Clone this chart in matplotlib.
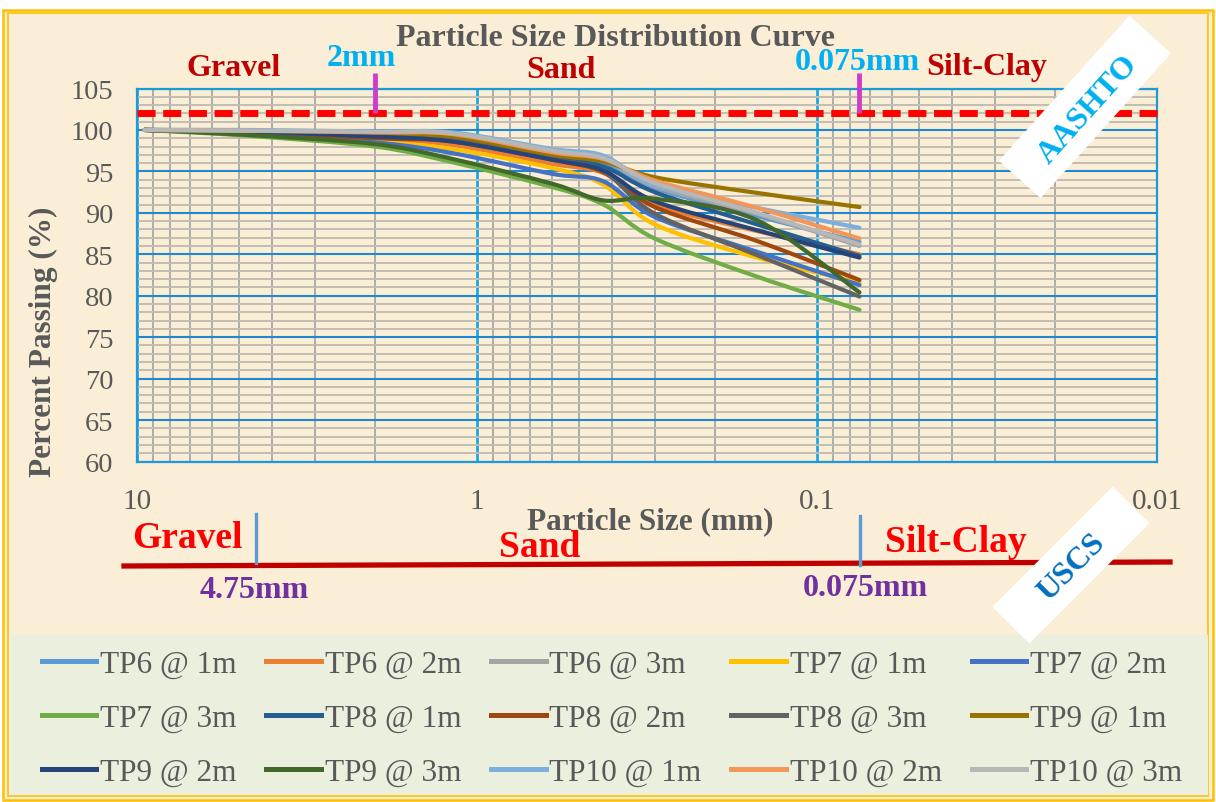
import matplotlib
matplotlib.use("Agg")
import matplotlib.pyplot as plt
import numpy as np
from matplotlib.path import Path
from matplotlib.patches import PathPatch, Rectangle
from matplotlib.lines import Line2D
from matplotlib.ticker import LogLocator, MultipleLocator, FixedLocator, FixedFormatter, NullFormatter
from matplotlib import transforms

plt.rcParams['font.family'] = ['Liberation Serif', 'DejaVu Serif']

# sieve sizes (mm) and percent passing for each test pit sample
sieve = [9.5, 4.75, 2.0, 1.18, 0.6, 0.425, 0.3, 0.15, 0.075]

tp6_1 = [100, 99.9, 99.6, 99.3, 97.3, 96.1, 93.0, 89.6, 86.5]
tp6_2 = [100, 99.7, 98.9, 98.2, 95.9, 94.8, 91.0, 87.8, 85.0]
tp6_3 = [100, 99.9, 99.7, 99.4, 97.4, 96.4, 93.2, 89.9, 86.0]
tp7_1 = [100, 99.6, 98.6, 97.7, 95.4, 93.4, 88.6, 84.6, 81.6]
tp7_2 = [100, 99.5, 98.5, 97.2, 94.7, 93.8, 89.5, 85.3, 81.3]
tp7_3 = [100, 99.3, 98.0, 96.1, 93.1, 91.0, 86.9, 82.3, 78.3]
tp8_1 = [100, 99.8, 99.3, 98.9, 96.7, 95.6, 92.5, 88.6, 84.8]
tp8_2 = [100, 99.7, 99.0, 98.6, 96.4, 94.9, 90.7, 86.6, 81.9]
tp8_3 = [100, 99.8, 99.2, 98.8, 96.5, 95.0, 89.9, 84.9, 79.9]
tp9_1 = [100, 99.9, 99.5, 99.2, 97.0, 96.2, 94.3, 92.4, 90.7]
tp9_2 = [100, 99.8, 99.2, 98.6, 96.4, 95.1, 91.4, 87.9, 84.6]
tp9_3 = [100, 99.4, 98.3, 96.5, 93.5, 91.5, 91.7, 89.1, 80.4]
tp10_1 = [100, 100, 99.8, 99.7, 97.7, 96.9, 93.4, 90.6, 88.2]
tp10_2 = [100, 99.9, 99.7, 99.5, 97.3, 96.5, 93.9, 90.6, 86.9]
tp10_3 = [100, 99.9, 99.8, 99.6, 97.5, 96.6, 93.6, 90.0, 86.2]

names = ['TP6 @ 1m', 'TP6 @ 2m', 'TP6 @ 3m', 'TP7 @ 1m', 'TP7 @ 2m',
         'TP7 @ 3m', 'TP8 @ 1m', 'TP8 @ 2m', 'TP8 @ 3m', 'TP9 @ 1m',
         'TP9 @ 2m', 'TP9 @ 3m', 'TP10 @ 1m', 'TP10 @ 2m', 'TP10 @ 3m']
series = [tp6_1, tp6_2, tp6_3, tp7_1, tp7_2, tp7_3, tp8_1, tp8_2, tp8_3,
          tp9_1, tp9_2, tp9_3, tp10_1, tp10_2, tp10_3]
colors = ['#5B9BD5', '#ED7D31', '#A5A5A5', '#FFC000', '#4472C4', '#70AD47',
          '#255E91', '#9E480E', '#636363', '#997300', '#264478', '#43682B',
          '#7CAFDD', '#F1975A', '#B7B7B7']

yticks = [60, 65, 70, 75, 80, 85, 90, 95, 100, 105]
xticks = [10, 1, 0.1, 0.01]
xticklabels = ['10', '1', '0.1', '0.01']

W, H = 1216, 803
GRAY = '#595959'


def fx(x):
    return x / W


def fy(y):
    return 1 - y / H


def smooth_path(xs, ys):
    # bezier smoothing done in log-x space so it looks right on the log axis
    pts = np.column_stack([np.log10(xs), ys])
    n = len(pts)
    verts = [pts[0]]
    codes = [Path.MOVETO]
    for i in range(n - 1):
        p0 = pts[max(i - 1, 0)]
        p1 = pts[i]
        p2 = pts[i + 1]
        p3 = pts[min(i + 2, n - 1)]
        verts += [p1 + (p2 - p0) / 6, p2 - (p3 - p1) / 6, p2]
        codes += [Path.CURVE4] * 3
    verts = np.array(verts)
    verts[:, 0] = 10 ** verts[:, 0]
    return Path(verts, codes)


def rot_box(cx, cy, length, width, angle):
    cy = H - cy
    tr = transforms.Affine2D().rotate_deg_around(cx, cy, angle).scale(1 / W, 1 / H) + fig.transFigure
    box = Rectangle((cx - length / 2, cy - width / 2), length, width,
                    facecolor='white', edgecolor='none', transform=tr, zorder=5)
    fig.add_artist(box)


fig = plt.figure(figsize=(W / 100, H / 100), dpi=100, facecolor='white')

# parchment background with gold double border
fig.add_artist(Rectangle((fx(3), fy(801)), fx(1210), 790 / H, transform=fig.transFigure,
                         facecolor='#FAEED6', edgecolor='#FFC000', lw=1.8, zorder=0))
fig.add_artist(Rectangle((fx(8), fy(797)), fx(1200), 783 / H, transform=fig.transFigure,
                         facecolor='none', edgecolor='#FFC000', lw=1.2, zorder=0))
# legend panel
fig.add_artist(Rectangle((fx(10), fy(796)), fx(1198), 160 / H, transform=fig.transFigure,
                         facecolor='#EBF0DE', edgecolor='none', zorder=1))

ax = fig.add_axes([fx(137), fy(462.5), fx(1157 - 137), (462.5 - 89.5) / H])
ax.set_facecolor('none')
ax.set_xscale('log')
ax.set_xlim(10, 0.01)
ax.set_ylim(60, 105)

ax.xaxis.set_major_locator(FixedLocator(xticks))
ax.xaxis.set_major_formatter(FixedFormatter(xticklabels))
ax.xaxis.set_minor_locator(LogLocator(base=10, subs=np.arange(2, 10)))
ax.xaxis.set_minor_formatter(NullFormatter())
ax.set_yticks(yticks)
ax.yaxis.set_minor_locator(MultipleLocator(1))

ax.grid(True, which='minor', axis='y', color='#C2BDB4', lw=1.4)
ax.grid(True, which='minor', axis='x', color='#A6A6A6', lw=1.3)
ax.grid(True, which='major', axis='y', color='#1E88D0', lw=1.5)
ax.grid(True, which='major', axis='x', color='#12A5E6', lw=1.9)
ax.set_axisbelow(True)
for s in ax.spines.values():
    s.set_color('#1E9AD8')
    s.set_linewidth(1.6)
ax.tick_params(which='both', length=0)
ax.tick_params(axis='x', pad=19, labelsize=21, labelcolor=GRAY)
ax.tick_params(axis='y', pad=17, labelsize=20.5, labelcolor=GRAY)

for vals, c in zip(series, colors):
    ax.add_patch(PathPatch(smooth_path(sieve, vals), facecolor='none', edgecolor=c,
                           lw=3.0, capstyle='round', zorder=3))

# AASHTO boundaries
ax.plot([0, 1.005], [102, 102], transform=ax.get_yaxis_transform(), color='#FF0000',
        lw=5, dashes=(2.6, 1.1), clip_on=False, zorder=4)
for size in [2.0, 0.075]:
    ax.plot([size, size], [102, 106.9], color='#D03CC8', lw=3.5, clip_on=False, zorder=4,
            solid_capstyle='butt')

fig.text(fx(616), fy(38), 'Particle Size Distribution Curve', ha='center', va='center',
         fontsize=23, fontweight='bold', color=GRAY)
fig.text(fx(234), fy(68), 'Gravel', ha='center', va='center', fontsize=23, fontweight='bold', color='#C00000')
fig.text(fx(561), fy(70), 'Sand', ha='center', va='center', fontsize=23, fontweight='bold', color='#C00000')
fig.text(fx(987), fy(67), 'Silt-Clay', ha='center', va='center', fontsize=23, fontweight='bold', color='#C00000')
fig.text(fx(361), fy(58), '2mm', ha='center', va='center', fontsize=23, fontweight='bold', color='#00B0F0')
fig.text(fx(857), fy(63), '0.075mm', ha='center', va='center', fontsize=23, fontweight='bold', color='#00B0F0')

fig.text(fx(43), fy(342), 'Percent Passing (%)', rotation=90, ha='center', va='center',
         fontsize=22.5, fontweight='bold', color=GRAY)
fig.text(fx(650), fy(522), 'Particle Size (mm)', ha='center', va='center',
         fontsize=22.5, fontweight='bold', color=GRAY, zorder=6)

# USCS boundaries
fig.add_artist(Line2D([fx(124), fx(1170)], [fy(567), fy(563)], color='#C00000', lw=3.8,
                      transform=fig.transFigure, zorder=4))
fig.add_artist(Line2D([fx(256), fx(256)], [fy(515), fy(564)], color='#5B9BD5', lw=2.4,
                      transform=fig.transFigure, zorder=4))
fig.add_artist(Line2D([fx(860), fx(860)], [fy(517), fy(566)], color='#5B9BD5', lw=2.4,
                      transform=fig.transFigure, zorder=4))
fig.text(fx(187), fy(539), 'Gravel', ha='center', va='center', fontsize=27, fontweight='bold', color='#FF0000')
fig.text(fx(540), fy(548), 'Sand', ha='center', va='center', fontsize=27, fontweight='bold', color='#FF0000')
fig.text(fx(956), fy(542), 'Silt-Clay', ha='center', va='center', fontsize=27, fontweight='bold', color='#FF0000')
fig.text(fx(254), fy(590), '4.75mm', ha='center', va='center', fontsize=23, fontweight='bold', color='#7030A0')
fig.text(fx(865), fy(588), '0.075mm', ha='center', va='center', fontsize=23, fontweight='bold', color='#7030A0')

rot_box(1085, 108, 195, 56, 48)
fig.text(fx(1088), fy(110), 'AASHTO', rotation=48, ha='center', va='center', rotation_mode='anchor',
         fontsize=23, fontweight='bold', color='#00B0F0', zorder=6)
rot_box(1071, 566, 170, 52, 45)
fig.text(fx(1072), fy(568), 'USCS', rotation=45, ha='center', va='center', rotation_mode='anchor',
         fontsize=23, fontweight='bold', color='#0070C0', zorder=6)

# legend, reordered so the rows read across
handles = [Line2D([], [], color=c, lw=3.6) for c in colors]
order = [r * 5 + c for c in range(5) for r in range(3)]
fig.legend([handles[i] for i in order], [names[i] for i in order], ncol=5,
           loc='center', bbox_to_anchor=(fx(612), fy(719)), frameon=False,
           fontsize=22.5, labelcolor=GRAY, handlelength=1.75, handletextpad=0.12,
           columnspacing=0.95, labelspacing=0.8)

fig.savefig('out.png', dpi=100)
